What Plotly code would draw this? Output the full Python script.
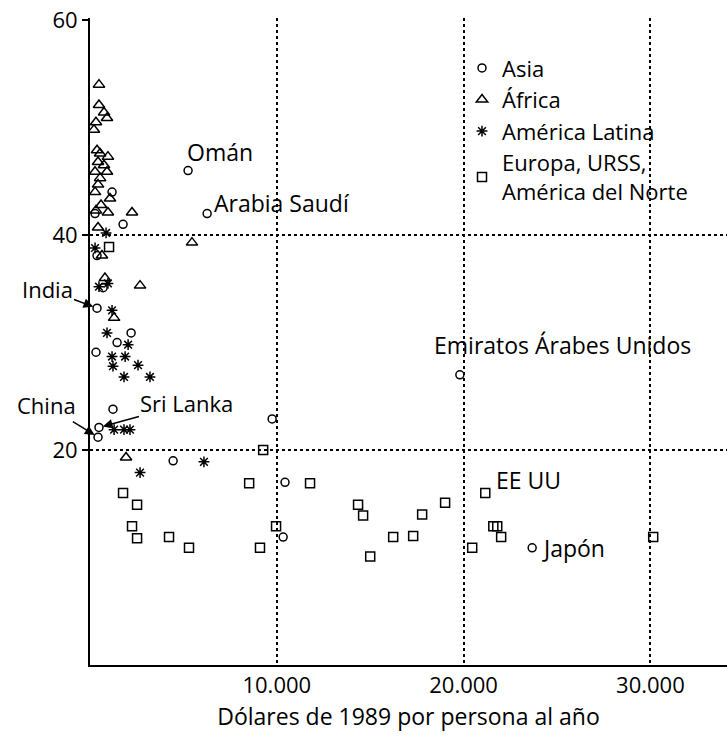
import plotly.graph_objects as go

# dolares de 1989 por persona y año (x) frente al valor del eje vertical (y)
asia_x = [5250, 6270, 19800, 23670, 9750, 4450, 10340, 10440, 430, 480, 1230,
          375, 2200, 1450, 320, 1770, 1180, 270, 700, 375]
asia_y = [46.0, 42.0, 27.0, 10.9, 22.9, 19.0, 11.9, 17.0, 21.2, 22.1, 23.8,
          33.2, 30.9, 30.0, 29.1, 41.0, 44.0, 42.0, 35.1, 38.1]

africa_x = [480, 480, 750, 910, 320, 210, 375, 540, 960, 430, 750, 270, 910,
            540, 430, 270, 1070, 590, 320, 960, 430, 2250, 5460, 640, 800,
            2680, 1290, 1930]
africa_y = [54.0, 52.1, 51.4, 50.9, 50.5, 49.8, 47.9, 47.6, 47.3, 46.8, 46.5,
            45.9, 45.9, 45.3, 44.7, 44.0, 43.4, 42.8, 42.3, 42.1, 40.7, 42.1,
            39.3, 38.1, 36.0, 35.3, 32.3, 19.3]

latam_x = [270, 860, 480, 960, 1180, 910, 2040, 1180, 1880, 1230, 2570, 1820,
           3210, 1290, 1820, 2140, 2680, 6100]
latam_y = [38.8, 40.2, 35.2, 35.5, 33.0, 30.9, 29.8, 28.7, 28.7, 27.8, 27.9,
           26.8, 26.8, 21.9, 21.9, 21.9, 17.9, 18.9]

europa_x = [9270, 8520, 11780, 14350, 14620, 9960, 4230, 5300, 9100, 16230,
            15000, 1770, 2520, 2250, 2520, 17300, 17780, 19010, 21160, 21590,
            21800, 22010, 20460, 30150, 1020]
europa_y = [20.0, 16.9, 16.9, 14.9, 13.9, 12.9, 11.9, 10.9, 10.9, 11.9, 10.1,
            16.0, 14.9, 12.9, 11.8, 12.0, 14.0, 15.1, 16.0, 12.9, 12.9, 11.9,
            10.9, 11.9, 38.9]

x_ticks = [10000, 20000, 30000]
x_tick_labels = ["10.000", "20.000", "30.000"]
y_ticks = [20, 40, 60]

FONT = "Open Sans"

fig = go.Figure()
series = [
    ("Asia", asia_x, asia_y, "circle-open", 8),
    ("África", africa_x, africa_y, "triangle-up-open", 10),
    ("América Latina", latam_x, latam_y, "asterisk-open", 9),
    ("Europa, URSS,<br>América del Norte", europa_x, europa_y, "square-open", 9),
]
for name, xs, ys, symbol, size in series:
    fig.add_trace(go.Scatter(
        x=xs, y=ys, mode="markers", name=name,
        marker=dict(symbol=symbol, size=size, color="black",
                    line=dict(color="black", width=1.5))))

# paises con nombre: (serie x, serie y, indice, texto, con flecha, posicion)
named = [
    (asia_x, asia_y, 0, "Omán", False, dict(xanchor="left", yanchor="middle", xshift=-3, yshift=19)),
    (asia_x, asia_y, 1, "Arabia Saudí", False, dict(xanchor="left", yanchor="middle", xshift=5, yshift=11)),
    (asia_x, asia_y, 2, "Emiratos Árabes Unidos", False, dict(xanchor="left", yanchor="middle", xshift=-28, yshift=30)),
    (europa_x, europa_y, 18, "EE UU", False, dict(xanchor="left", yanchor="middle", xshift=9, yshift=13)),
    (asia_x, asia_y, 3, "Japón", False, dict(xanchor="left", yanchor="middle", xshift=8, yshift=0)),
    (asia_x, asia_y, 11, "India", True, dict(ax=-50, ay=-19)),
    (asia_x, asia_y, 8, "China", True, dict(ax=-52, ay=-32)),
    (asia_x, asia_y, 9, "Sri Lanka", True, dict(ax=88, ay=-24)),
]
for xs, ys, i, text, arrow, opts in named:
    if arrow:
        fig.add_annotation(x=xs[i], y=ys[i], text=text, showarrow=True,
                           arrowhead=2, arrowsize=1.3, arrowwidth=1.5,
                           arrowcolor="black", standoff=4,
                           font=dict(size=22), **opts)
    else:
        fig.add_annotation(x=xs[i], y=ys[i], text=text, showarrow=False,
                           font=dict(size=23), **opts)

fig.update_xaxes(
    range=[0, 34100], tickvals=x_ticks, ticktext=x_tick_labels, ticks="",
    tickfont=dict(size=22), automargin=False,
    showline=True, linecolor="black", linewidth=2, zeroline=False,
    showgrid=True, gridcolor="black", griddash="dot", gridwidth=1.5,
    title_text="Dólares de 1989 por persona al año", title_standoff=10,
    title_font=dict(size=23))
fig.update_yaxes(
    range=[0, 60.2], tickvals=y_ticks, ticks="outside", ticklen=6,
    tickcolor="black", tickwidth=1.5, tickfont=dict(size=22),
    automargin=False,
    showline=True, linecolor="black", linewidth=2, zeroline=False,
    showgrid=False,
    minor=dict(tickvals=[20, 40], showgrid=True, gridcolor="black",
               griddash="dot", gridwidth=1.5, ticks=""))
fig.update_layout(
    width=727, height=737,
    margin=dict(l=90, r=0, t=18, b=72),
    plot_bgcolor="white", paper_bgcolor="white",
    font=dict(family=FONT, size=22, color="black"),
    showlegend=True,
    legend=dict(x=0.584, y=0.955, xanchor="left", yanchor="top",
                bgcolor="rgba(0,0,0,0)", font=dict(size=22),
                itemwidth=30, tracegroupgap=0))

# sin el margen de 8 px que el navegador pone al body
fig.write_html("out.html", config={"displayModeBar": False},
               post_script="document.body.style.margin='0';")
